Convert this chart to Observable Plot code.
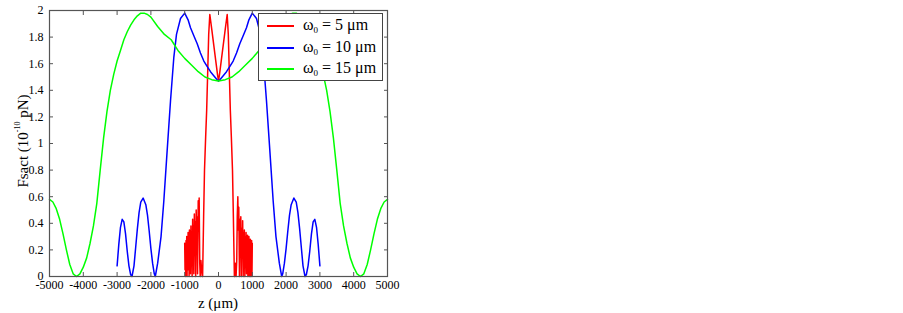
<!DOCTYPE html>
<html>
<head>
<meta charset="utf-8">
<script src="https://cdn.jsdelivr.net/npm/d3@7"></script>
<script src="https://cdn.jsdelivr.net/npm/@observablehq/plot@0.6"></script>
<style>
  html, body { margin: 0; padding: 0; background: #fff; }
  #wrap { position: relative; width: 903px; height: 313px; font-family: "Liberation Serif", "DejaVu Serif", serif; }
  #wrap svg text { font-family: "Liberation Serif", "DejaVu Serif", serif; }
  #legend { position: absolute; left: 258px; top: 13px; width: 125px; height: 68px; border: 1px solid #444; background: #fff; box-sizing: border-box; }
  .row { position: absolute; left: 0; height: 22px; }
  .sw { position: absolute; left: 8px; width: 27px; height: 0; border-top: 2px solid; }
  .lt { position: absolute; left: 44px; font-size: 16px; white-space: nowrap; line-height: 16px; top: -9px; }
  .lt sub { font-size: 9px; vertical-align: -3px; line-height: 0; }
</style>
</head>
<body>
<div id="wrap"></div>
<script>
// ---------- data ----------
const seriesNames = ["ω0 = 5 μm", "ω0 = 10 μm", "ω0 = 15 μm"];
const seriesColors = ["#ff0000", "#0000ff", "#00ff00"];
const legendSubs = ["5", "10", "15"];

const xTicks = [-5000, -4000, -3000, -2000, -1000, 0, 1000, 2000, 3000, 4000, 5000];
const yTicks = [0, 0.2, 0.4, 0.6, 0.8, 1, 1.2, 1.4, 1.6, 1.8, 2];

// red (ω0 = 5 μm)
const zRed = [-1000,-990,-980,-970,-960,-950,-940,-930,-920,-910,-900,-890,-880,-870,-860,-850,-840,-830,-815,-805,-795,-780,-765,-755,-745,-730,-715,-700,-690,-675,-660,-648,-636,-620,-600,-585,-572,-555,-540,-520,-500,-480,
  -470,-440,-414,-380,-350,-316,-290,-257,-200,-140,-80,-30,0,30,80,140,200,257,290,316,350,380,414,440,470,
  480,500,520,540,555,572,585,600,620,636,648,660,675,690,700,715,730,745,755,765,780,795,805,815,830,840,850,860,870,880,890,900,910,920,930,940,950,960,970,980,990,1000];
const fRed = [0.25,0.05,0.22,0.0,0.27,0.08,0.30,0.0,0.24,0.05,0.33,0.10,0.30,0.0,0.35,0.12,0.28,0.02,0.38,0.15,0.33,0.0,0.43,0.20,0.38,0.02,0.47,0.20,0.41,0.0,0.50,0.30,0.45,0.02,0.57,0.40,0.59,0.10,0.0,0.12,0.05,0.0,
  0.0,0.45,0.80,1.05,1.25,1.57,1.82,1.97,1.86,1.74,1.62,1.52,1.47,1.52,1.62,1.74,1.86,1.97,1.82,1.57,1.25,1.05,0.80,0.45,0.0,
  0.0,0.10,0.0,0.12,0.45,0.60,0.35,0.52,0.0,0.43,0.25,0.45,0.0,0.36,0.15,0.42,0.0,0.33,0.12,0.35,0.0,0.30,0.10,0.33,0.02,0.28,0.05,0.31,0.0,0.27,0.08,0.30,0.0,0.26,0.06,0.28,0.0,0.25,0.04,0.27,0.0,0.25];

// blue (ω0 = 10 μm)
const zBlue = [-3000,-2950,-2900,-2850,-2800,-2750,-2700,-2650,-2600,-2560,-2500,-2450,-2400,-2350,-2300,-2230,-2150,-2100,-2050,-2000,-1950,-1900,-1870,-1800,-1700,-1617,-1518,-1420,-1321,-1243,-1124,-1000,-900,-828,-730,-630,-534,-434,-337,-237,-140,-40,0,
  40,140,237,337,434,534,630,730,828,900,1000,1124,1243,1321,1420,1518,1617,1700,1800,1870,1900,1950,2000,2050,2100,2150,2230,2300,2350,2400,2450,2500,2560,2600,2650,2700,2750,2800,2850,2900,2950,3000];
const fBlue = [0.08,0.24,0.37,0.43,0.41,0.32,0.19,0.08,0.015,0.0,0.08,0.22,0.36,0.48,0.56,0.59,0.54,0.46,0.34,0.21,0.10,0.02,0.0,0.10,0.30,0.57,0.95,1.32,1.65,1.82,1.94,1.98,1.93,1.87,1.81,1.75,1.68,1.62,1.58,1.54,1.51,1.48,1.47,
  1.48,1.51,1.54,1.58,1.62,1.68,1.75,1.81,1.87,1.93,1.98,1.94,1.82,1.65,1.32,0.95,0.57,0.30,0.10,0.0,0.02,0.10,0.21,0.34,0.46,0.54,0.59,0.56,0.48,0.36,0.22,0.08,0.0,0.015,0.08,0.19,0.32,0.41,0.43,0.37,0.24,0.08];

// green (ω0 = 15 μm)
const zGreen = [-5000,-4900,-4800,-4700,-4600,-4500,-4400,-4300,-4200,-4100,-4000,-3900,-3800,-3700,-3600,-3500,-3400,-3300,-3200,-3100,-3000,-2900,-2800,-2700,-2600,-2500,-2400,-2300,-2200,-2100,-2000,-1800,-1600,-1400,-1200,-1000,-800,-600,-400,-200,0,
  200,400,600,800,1000,1200,1400,1600,1800,2000,2100,2200,2300,2400,2500,2600,2700,2800,2900,3000,3100,3200,3300,3400,3500,3600,3700,3800,3900,4000,4100,4200,4300,4400,4500,4600,4700,4800,4900,5000];
const fGreen = [0.58,0.56,0.51,0.43,0.32,0.20,0.09,0.02,0.0,0.02,0.07,0.14,0.25,0.38,0.55,0.80,1.04,1.24,1.40,1.52,1.62,1.70,1.78,1.84,1.89,1.93,1.96,1.98,1.98,1.97,1.95,1.88,1.82,1.78,1.70,1.64,1.59,1.54,1.50,1.48,1.47,
  1.48,1.50,1.54,1.59,1.64,1.70,1.78,1.82,1.88,1.95,1.97,1.98,1.98,1.96,1.93,1.89,1.84,1.78,1.70,1.62,1.52,1.40,1.24,1.04,0.80,0.55,0.38,0.25,0.14,0.07,0.02,0.0,0.02,0.09,0.20,0.32,0.43,0.51,0.56,0.58];

// ---------- build table ----------
const zs = [zRed, zBlue, zGreen];
const fs = [fRed, fBlue, fGreen];
const rows = [];
seriesNames.forEach((name, i) => {
  zs[i].forEach((z, j) => rows.push({series: name, z, f: fs[i][j]}));
});

const frameColor = "#555";
const chart = Plot.plot({
  width: 903,
  height: 313,
  marginLeft: 49,
  marginRight: 516,
  marginTop: 10,
  marginBottom: 37,
  style: {fontFamily: '"Liberation Serif", serif', fontSize: "12px", color: "#000", background: "#fff"},
  x: {domain: [-5000, 5000]},
  y: {domain: [0, 2]},
  color: {domain: seriesNames, range: seriesColors},
  marks: [
    Plot.line(rows, {x: "z", y: "f", z: "series", stroke: "series", strokeWidth: 1.5}),
    Plot.axisX(xTicks, {anchor: "bottom", tickSize: -4, tickFormat: () => "", stroke: frameColor, label: null}),
    Plot.axisX(xTicks, {anchor: "top", tickSize: -4, tickFormat: () => "", stroke: frameColor, label: null}),
    Plot.axisX(xTicks, {anchor: "bottom", tickSize: 0, tickPadding: 4, tickFormat: d => String(d), fill: "#000", label: null}),
    Plot.axisY(yTicks, {anchor: "left", tickSize: -4, tickFormat: () => "", stroke: frameColor, label: null}),
    Plot.axisY(yTicks, {anchor: "right", tickSize: -4, tickFormat: () => "", stroke: frameColor, label: null}),
    Plot.axisY(yTicks, {anchor: "left", tickSize: 0, tickPadding: 6, tickFormat: d => String(d), fill: "#000", label: null}),
    Plot.frame({stroke: frameColor, strokeWidth: 1.2})
  ]
});

const wrap = document.getElementById("wrap");
wrap.appendChild(chart);

// axis titles
const svg = d3.select(chart);
svg.append("text")
  .attr("x", 218).attr("y", 303)
  .attr("text-anchor", "middle").attr("dominant-baseline", "central")
  .attr("font-size", 15)
  .text("z (μm)");
const yl = svg.append("text")
  .attr("transform", "translate(23,141) rotate(-90)")
  .attr("text-anchor", "middle").attr("dominant-baseline", "central")
  .attr("font-size", 15);
yl.append("tspan").text("Fsact (10");
yl.append("tspan").attr("font-size", 8).attr("dy", -6).text("-10");
yl.append("tspan").attr("dy", 6).text(" pN)");

// legend
const legend = document.createElement("div");
legend.id = "legend";
seriesNames.forEach((name, i) => {
  const row = document.createElement("div");
  row.className = "row";
  row.style.top = (12 + i * 21.7) + "px";
  const sw = document.createElement("div");
  sw.className = "sw";
  sw.style.borderTopColor = seriesColors[i];
  sw.style.top = "-1px";
  const lt = document.createElement("div");
  lt.className = "lt";
  lt.innerHTML = "ω<sub>0</sub> = " + legendSubs[i] + " μm";
  row.appendChild(sw);
  row.appendChild(lt);
  legend.appendChild(row);
});
wrap.appendChild(legend);
</script>
</body>
</html>
